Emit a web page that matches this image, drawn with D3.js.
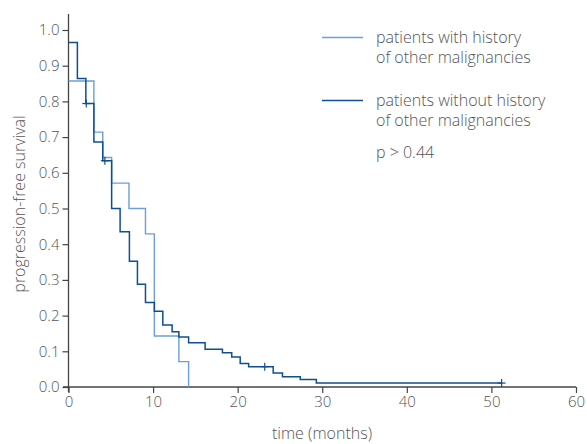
<!DOCTYPE html>
<html>
<head>
<meta charset="utf-8">
<script src="https://cdn.jsdelivr.net/npm/d3@7"></script>
<style>
	body { margin: 0; background: #fff; }
	text { font-family: "Open Sans", "Noto Sans", sans-serif; font-weight: 300; fill: #555; }
</style>
</head>
<body>
<svg id="chart" width="587" height="444"></svg>
<script>
// step points: [time, survival after this time]
const withHistory = [
	[0, 0.857], [3.0, 0.714], [4.05, 0.643], [5.1, 0.571], [7.15, 0.5],
	[9.1, 0.429], [10.15, 0.143], [13.05, 0.071], [14.2, 0]
];
const withoutHistory = [
	[0, 0.965], [1.05, 0.864], [2.05, 0.794], [3.0, 0.686], [4.05, 0.634],
	[5.1, 0.5], [6.1, 0.435], [7.2, 0.352], [8.15, 0.288], [9.1, 0.237],
	[10.15, 0.212], [11.15, 0.174], [12.25, 0.155], [13.05, 0.14], [14.2, 0.124],
	[16.15, 0.106], [18.2, 0.096], [19.3, 0.084], [20.3, 0.066], [21.3, 0.057],
	[24.2, 0.039], [25.3, 0.029], [27.4, 0.021], [29.3, 0.011], [51.3, 0.011]
];
// censor marks [time, survival]
const censorWithout = [[2.1, 0.794], [4.3, 0.634], [23.2, 0.057], [51.2, 0.011]];

const xTicks = [0, 10, 20, 30, 40, 50, 60];
const yTicks = [0, 0.1, 0.2, 0.3, 0.4, 0.5, 0.6, 0.7, 0.8, 0.9, 1.0];
const legendLabels = [
	["patients with history", "of other malignancies"],
	["patients without history", "of other malignancies"]
];
const pText = "p > 0.44";

const colLight = "#6b9fd6";
const colDark = "#0f4f8e";

const svg = d3.select("#chart");
const x = d3.scaleLinear().domain([0, 60]).range([68.5, 576]);
const y = d3.scaleLinear().domain([0, 1]).range([387, 30]);

// axes
const xAxis = svg.append("g")
	.attr("transform", `translate(0, ${y(0)})`)
	.call(d3.axisBottom(x).tickValues(xTicks).tickSize(6).tickPadding(3));
const yAxis = svg.append("g")
	.attr("transform", `translate(${x(0)}, 0)`)
	.call(d3.axisLeft(y).tickValues(yTicks).tickFormat(d3.format(".1f")).tickSize(6).tickPadding(3));

[xAxis, yAxis].forEach((g) => {
	g.select(".domain").remove();
	g.selectAll("line").attr("stroke", "#444").attr("stroke-width", 1.2);
	g.selectAll("text").style("font-size", "15px").attr("fill", "#555");
});
// x axis line spills a bit left, y axis a bit above and below
svg.append("line").attr("x1", 63).attr("x2", 576).attr("y1", y(0)).attr("y2", y(0))
	.attr("stroke", "#444").attr("stroke-width", 1.3);
svg.append("line").attr("x1", x(0)).attr("x2", x(0)).attr("y1", 14).attr("y2", 392)
	.attr("stroke", "#444").attr("stroke-width", 1.3);

// curves
const line = d3.line()
	.x((d) => x(d[0]))
	.y((d) => y(d[1]))
	.curve(d3.curveStepAfter);

svg.append("path").datum(withHistory)
	.attr("d", line).attr("fill", "none")
	.attr("stroke", colLight).attr("stroke-width", 1.4);
svg.append("path").datum(withoutHistory)
	.attr("d", line).attr("fill", "none")
	.attr("stroke", colDark).attr("stroke-width", 1.5);

svg.selectAll("g.censor")
	.data(censorWithout)
	.join("g")
	.classed("censor", true)
	.attr("transform", (d) => `translate(${x(d[0])}, ${y(d[1])})`)
	.each(function () {
		d3.select(this).append("line").attr("x1", -4).attr("x2", 4);
		d3.select(this).append("line").attr("y1", -4).attr("y2", 4);
	})
	.selectAll("line").attr("stroke", colDark).attr("stroke-width", 1.2);

// axis titles
svg.append("text")
	.attr("x", 322).attr("y", 439)
	.attr("text-anchor", "middle")
	.style("font-size", "16px")
	.text("time (months)");
svg.append("text")
	.attr("transform", "translate(25, 204) rotate(-90)")
	.attr("text-anchor", "middle")
	.style("font-size", "16px")
	.text("progression-free survival");

// legend
const legendG = svg.selectAll("g.legend")
	.data(legendLabels)
	.join("g")
	.classed("legend", true)
	.attr("transform", (d, i) => `translate(322, ${37.5 + i * 63})`);
legendG.append("line")
	.attr("x1", 0).attr("x2", 41)
	.attr("stroke", (d, i) => (i === 0 ? colLight : colDark))
	.attr("stroke-width", (d, i) => (i === 0 ? 1.4 : 1.5));
legendG.selectAll("text")
	.data((d) => d)
	.join("text")
	.attr("x", 54)
	.attr("y", (d, i) => 5 + i * 20)
	.style("font-size", "16px")
	.text((d) => d);

svg.append("text")
	.attr("x", 376).attr("y", 158)
	.style("font-size", "16px")
	.text(pText);
</script>
</body>
</html>
